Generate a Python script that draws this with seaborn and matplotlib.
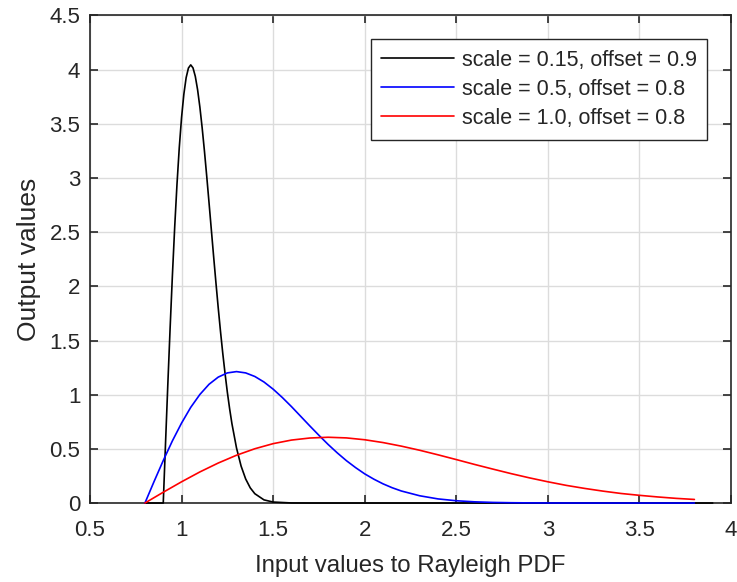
import numpy as np
import pandas as pd
import seaborn as sns
import matplotlib.pyplot as plt

# values
x_black = [0.8, 0.9, 0.9125, 0.925, 0.9375, 0.95, 0.9625, 0.975, 0.9875, 1.0,
           1.0125, 1.025, 1.0375, 1.05, 1.0625, 1.075, 1.0875, 1.1, 1.1125,
           1.125, 1.1375, 1.15, 1.1625, 1.175, 1.1875, 1.2, 1.2125, 1.225,
           1.2375, 1.25, 1.2625, 1.275, 1.3, 1.325, 1.35, 1.375, 1.4, 1.45,
           1.5, 1.6, 1.7, 3.9]
y_black = [0.0, 0.0, 0.554, 1.096, 1.615, 2.102, 2.547, 2.942, 3.281, 3.559,
           3.774, 3.926, 4.015, 4.044, 4.016, 3.938, 3.815, 3.654, 3.462,
           3.247, 3.014, 2.771, 2.523, 2.276, 2.036, 1.804, 1.585, 1.381,
           1.194, 1.022, 0.869, 0.732, 0.508, 0.341, 0.222, 0.140, 0.086,
           0.029, 0.009, 0.0006, 0.0, 0.0]

x_blue = [0.8, 0.85, 0.9, 0.95, 1.0, 1.05, 1.1, 1.15, 1.2, 1.25, 1.3, 1.35,
          1.4, 1.45, 1.5, 1.55, 1.6, 1.65, 1.7, 1.75, 1.8, 1.85, 1.9, 1.95,
          2.0, 2.05, 2.1, 2.15, 2.2, 2.3, 2.4, 2.5, 2.6, 2.7, 2.8, 2.9, 3.0,
          3.2, 3.8]
y_blue = [0.0, 0.199, 0.392, 0.574, 0.738, 0.883, 1.002, 1.096, 1.162, 1.201,
          1.213, 1.201, 1.168, 1.117, 1.051, 0.974, 0.890, 0.801, 0.712, 0.625,
          0.541, 0.463, 0.391, 0.327, 0.269, 0.220, 0.177, 0.141, 0.111, 0.067,
          0.038, 0.021, 0.011, 0.0055, 0.0027, 0.0012, 0.0005, 0.0, 0.0]

x_red = [0.8, 0.9, 1.0, 1.1, 1.2, 1.3, 1.4, 1.5, 1.6, 1.7, 1.8, 1.9, 2.0, 2.1,
         2.2, 2.3, 2.4, 2.5, 2.6, 2.7, 2.8, 2.9, 3.0, 3.1, 3.2, 3.3, 3.4, 3.5,
         3.6, 3.7, 3.8]
y_red = [0.0, 0.0995, 0.196, 0.287, 0.369, 0.441, 0.501, 0.548, 0.581, 0.600,
         0.607, 0.601, 0.584, 0.558, 0.525, 0.487, 0.445, 0.401, 0.356, 0.313,
         0.271, 0.232, 0.196, 0.163, 0.135, 0.110, 0.088, 0.071, 0.056, 0.043,
         0.033]

labels = ["scale = 0.15, offset = 0.9",
          "scale = 0.5, offset = 0.8",
          "scale = 1.0, offset = 0.8"]
colors = ["black", "blue", "red"]

df = pd.concat([
    pd.DataFrame({"x": x_black, "y": y_black, "curve": labels[0]}),
    pd.DataFrame({"x": x_blue, "y": y_blue, "curve": labels[1]}),
    pd.DataFrame({"x": x_red, "y": y_red, "curve": labels[2]}),
])

sns.set_style("ticks")
plt.rcParams["font.family"] = ["Liberation Sans", "DejaVu Sans"]
ink = "#262626"

fig = plt.figure(figsize=(7.37, 5.82), dpi=100)
ax = fig.add_axes([0.1221, 0.1357, 0.8698, 0.8377])

sns.lineplot(data=df, x="x", y="y", hue="curve", palette=colors,
             sort=False, estimator=None, linewidth=1.2, ax=ax, zorder=5,
             clip_on=False)

ax.set_xlim(0.5, 4)
ax.set_ylim(0, 4.5)
ax.set_xticks(np.arange(0.5, 4.01, 0.5))
ax.set_yticks(np.arange(0, 4.51, 0.5))
ax.set_xticklabels(["0.5", "1", "1.5", "2", "2.5", "3", "3.5", "4"])
ax.set_yticklabels(["0", "0.5", "1", "1.5", "2", "2.5", "3", "3.5", "4", "4.5"])
ax.grid(True, color="#dcdcdc", linewidth=1.0)
ax.set_axisbelow(True)

for s in ax.spines.values():
    s.set_visible(True)
    s.set_color(ink)
    s.set_linewidth(1.2)
ax.tick_params(direction="in", length=6, width=1.2, colors=ink,
               labelsize=16, top=True, right=True)
ax.tick_params(axis="x", pad=12)
ax.tick_params(axis="y", pad=7)

ax.set_xlabel("Input values to Rayleigh PDF", fontsize=17.3, color=ink,
              labelpad=10)
ax.set_ylabel("Output values", fontsize=19, color=ink, labelpad=6)

leg = ax.legend(loc="upper right", bbox_to_anchor=(0.963, 0.952),
                fontsize=15.5, frameon=True, fancybox=False, framealpha=1,
                edgecolor=ink, handlelength=3.35, borderpad=0.5,
                labelspacing=0.38, handletextpad=0.37, borderaxespad=0)
leg.get_frame().set_linewidth(1.0)
leg.set_zorder(10)

fig.savefig("out.png", dpi=100)
